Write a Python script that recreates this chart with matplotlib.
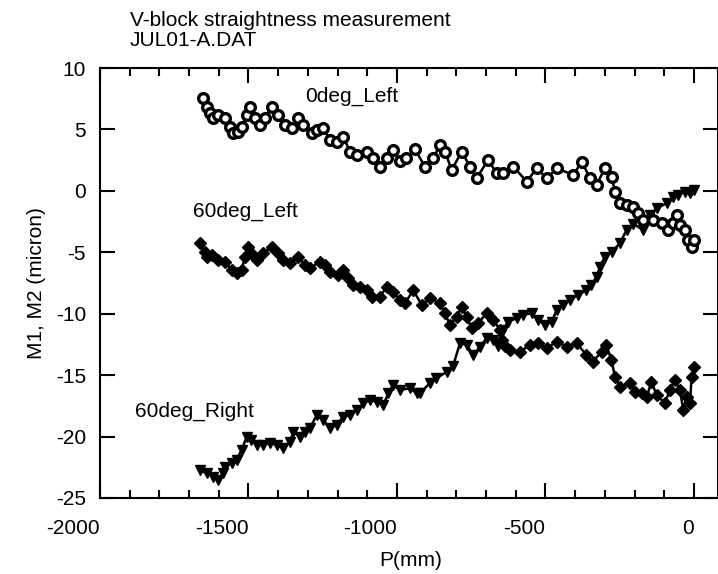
import matplotlib
matplotlib.use('Agg')
import matplotlib.pyplot as plt
from matplotlib.ticker import MultipleLocator, NullLocator

plt.rcParams['font.family'] = ['Liberation Sans', 'DejaVu Sans']

# ---- data ----
x_0deg_left = [-1652, -1641, -1630, -1618, -1602, -1579, -1562, -1551, -1534, -1523,
               -1506, -1495, -1478, -1461, -1444, -1422, -1400, -1377, -1355, -1332,
               -1315, -1287, -1270, -1248, -1226, -1203, -1181, -1158, -1136, -1102,
               -1080, -1057, -1035, -1013, -990, -968, -940, -906, -878, -855,
               -838, -816, -782, -754, -732, -693, -664, -642, -608, -563,
               -530, -496, -462, -406, -378, -350, -328, -300, -277, -266,
               -249, -227, -204, -188, -171, -137, -109, -87, -70, -58,
               -47, -30, -19, -8, 0]
y_0deg_left = [7.54, 6.85, 6.32, 5.91, 6.18, 5.91, 5.23, 4.69, 4.82, 5.23,
               6.18, 6.85, 5.91, 5.36, 5.91, 6.85, 6.18, 5.36, 5.10, 5.91,
               5.36, 4.69, 4.96, 5.10, 4.14, 4.00, 4.41, 3.19, 2.92, 3.19,
               2.65, 1.97, 2.65, 3.33, 2.43, 2.68, 3.41, 1.97, 2.65, 3.74,
               3.19, 1.70, 3.19, 1.97, 1.03, 2.52, 1.43, 1.43, 1.97, 0.75,
               1.84, 1.03, 1.84, 1.29, 2.38, 1.03, 0.48, 1.84, 1.16, -0.07,
               -1.01, -1.15, -1.29, -1.82, -2.37, -2.37, -2.64, -3.18, -2.64, -1.96,
               -2.78, -3.18, -4.00, -4.54, -4.00]

x_60deg_left = [-1663, -1646, -1641, -1624, -1602, -1579, -1557, -1540, -1523, -1512,
                -1501, -1484, -1473, -1450, -1422, -1400, -1383, -1360, -1332, -1310,
                -1293, -1259, -1242, -1226, -1198, -1181, -1164, -1147, -1125, -1102,
                -1085, -1057, -1035, -1013, -990, -973, -945, -917, -889, -855,
                -838, -822, -799, -782, -765, -749, -727, -698, -676, -653,
                -648, -636, -620, -586, -552, -524, -496, -462, -429, -395,
                -362, -340, -311, -295, -278, -266, -249, -215, -199, -176,
                -159, -143, -126, -98, -81, -64, -47, -36, -25, -13,
                -8, 0]
y_60deg_left = [-4.27, -4.95, -5.36, -5.22, -5.63, -5.76, -6.44, -6.71, -6.44, -5.36,
                -4.54, -5.22, -5.63, -5.08, -4.54, -5.08, -5.63, -5.89, -5.36, -6.03,
                -6.30, -5.76, -6.03, -6.58, -6.85, -6.44, -7.11, -7.66, -7.80, -8.07,
                -8.61, -8.61, -7.80, -8.20, -8.88, -9.15, -8.07, -9.29, -8.74, -9.15,
                -9.96, -10.91, -10.24, -9.43, -10.24, -11.18, -10.78, -9.96, -10.51, -11.32,
                -12.14, -12.62, -12.95, -13.09, -12.54, -12.40, -12.81, -12.27, -12.68, -12.40,
                -13.36, -13.90, -13.09, -12.54, -13.76, -15.12, -15.94, -15.66, -16.34, -16.47,
                -16.75, -15.53, -16.61, -17.29, -16.21, -15.39, -16.21, -17.84, -16.75, -17.29,
                -15.12, -14.31]

x_60deg_right = [-1663, -1641, -1618, -1602, -1585, -1579, -1557, -1540, -1523, -1506,
                 -1490, -1473, -1450, -1428, -1405, -1383, -1360, -1349, -1327, -1310,
                 -1293, -1270, -1248, -1226, -1203, -1181, -1158, -1136, -1113, -1091,
                 -1068, -1046, -1029, -1013, -990, -956, -934, -922, -889, -867,
                 -833, -811, -788, -765, -743, -720, -698, -676, -659, -642,
                 -626, -597, -575, -547, -524, -502, -479, -462, -440, -418,
                 -390, -362, -345, -328, -316, -300, -277, -249, -227, -204,
                 -171, -148, -126, -92, -70, -53, -30, -13, 0]
y_60deg_right = [-22.72, -22.99, -23.26, -23.53, -22.99, -22.45, -22.17, -21.90, -21.09, -20.01,
                 -20.28, -20.68, -20.68, -20.54, -20.68, -20.95, -20.41, -19.60, -20.01, -19.60,
                 -19.32, -18.24, -18.65, -19.32, -19.05, -18.38, -18.24, -17.83, -17.29, -17.02,
                 -17.16, -17.43, -16.47, -15.80, -16.21, -16.07, -16.47, -16.45, -15.64, -15.25,
                 -14.74, -14.25, -12.40, -12.54, -13.36, -12.68, -12.00, -12.14, -12.62, -11.32,
                 -10.65, -10.37, -10.10, -9.96, -10.51, -10.91, -10.65, -9.69, -9.29, -8.88,
                 -8.47, -8.07, -7.66, -6.98, -6.17, -5.36, -4.95, -4.27, -3.18, -2.69,
                 -3.18, -1.96, -1.42, -1.01, -0.47, -0.33, -0.07, -0.20, 0.07]

x_ticks = [-2000, -1500, -1000, -500, 0]
x_tick_labels = ['-2000', '-1500', '-1000', '-500', '0']
y_ticks = [-25, -20, -15, -10, -5, 0, 5, 10]
y_tick_labels = ['-25', '-20', '-15', '-10', '-5', '0', '5', '10']

title_lines = ['V-block straightness measurement', 'JUL01-A.DAT']
series_labels = ['0deg_Left', '60deg_Left', '60deg_Right']

# ---- figure ----
FS = 15
fig = plt.figure(figsize=(7.18, 5.74), dpi=100)
ax = fig.add_axes([100 / 718, 76 / 574, 618 / 718, 430 / 574])

ax.plot(x_60deg_right, y_60deg_right, '-', color='black', lw=1.8,
        marker='v', ms=7.5, mfc='black', mec='black', mew=1.0)
ax.plot(x_60deg_left, y_60deg_left, '-', color='black', lw=1.8,
        marker='D', ms=5.8, mfc='black', mec='black', mew=1.0)
ax.plot(x_0deg_left, y_0deg_left, '-', color='black', lw=1.8,
        marker='o', ms=7, mfc='white', mec='black', mew=2.4)

ax.set_xlim(-2000, 81)
ax.set_ylim(-25, 10)

ax.set_xticks(x_ticks)
ax.set_xticklabels(x_tick_labels, ha='right')
ax.set_yticks(y_ticks)
ax.set_yticklabels(y_tick_labels)
ax.xaxis.set_minor_locator(MultipleLocator(100))
ax.yaxis.set_minor_locator(NullLocator())

ax.tick_params(which='both', direction='in', top=True, right=True,
               width=1.5, color='black', labelsize=FS)
ax.tick_params(which='major', length=11)
ax.tick_params(which='minor', length=5.5)
ax.tick_params(axis='x', which='major', pad=15)
ax.tick_params(axis='y', which='major', pad=10)
for s in ax.spines.values():
    s.set_linewidth(1.5)

# series labels
ax.text(-1310, 7.24, series_labels[0], fontsize=FS, ha='left', va='baseline')
ax.text(-1687, -2.12, series_labels[1], fontsize=FS, ha='left', va='baseline')
ax.text(-1882, -18.4, series_labels[2], fontsize=FS, ha='left', va='baseline')

# title and axis labels
fig.text(130 / 718, 1 - 11 / 574, '\n'.join(title_lines), fontsize=FS,
         ha='left', va='top', linespacing=1.08)
fig.text(37 / 718, 1 - 283 / 574, 'M1, M2 (micron)', fontsize=FS,
         rotation=90, ha='center', va='center')
fig.text(411 / 718, 1 - 561 / 574, 'P(mm)', fontsize=FS,
         ha='center', va='center')

fig.savefig('out.png', dpi=100)
